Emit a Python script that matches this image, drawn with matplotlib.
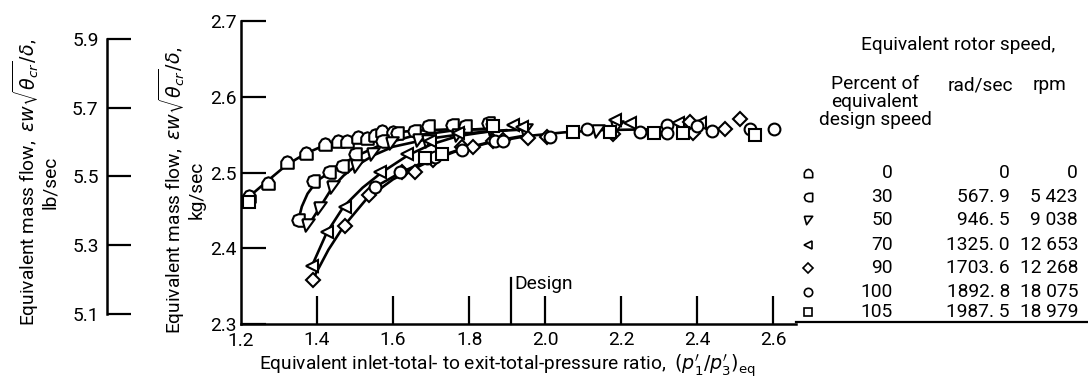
import matplotlib

matplotlib.use("Agg")
import matplotlib.pyplot as plt
from matplotlib.lines import Line2D

LB_PER_KG = 2.20462

plt.rcParams["font.family"] = ["Roboto", "DejaVu Sans"]
plt.rcParams["mathtext.fontset"] = "dejavusans"

# measured points, equivalent pressure ratio vs equivalent mass flow (kg/sec)
pr_0 = [1.221, 1.272, 1.322, 1.371, 1.421, 1.456, 1.480, 1.509, 1.531, 1.553, 1.572, 1.600]
wf_0 = [2.469, 2.486, 2.514, 2.526, 2.538, 2.542, 2.542, 2.547, 2.546, 2.550, 2.555, 2.553]

pr_30 = [1.351, 1.390, 1.432, 1.465, 1.500, 1.572, 1.610, 1.654, 1.693, 1.754, 1.789, 1.850]
wf_30 = [2.437, 2.489, 2.501, 2.508, 2.524, 2.541, 2.552, 2.555, 2.561, 2.563, 2.561, 2.566]

pr_50 = [1.377, 1.408, 1.443, 1.504, 1.548, 1.596, 1.667, 1.693, 1.772, 1.860, 1.950, 2.140, 2.190]
wf_50 = [2.431, 2.453, 2.481, 2.509, 2.524, 2.539, 2.543, 2.541, 2.550, 2.558, 2.556, 2.555, 2.560]

pr_70 = [1.386, 1.425, 1.474, 1.566, 1.636, 1.697, 1.772, 1.916, 1.940, 2.184, 2.224, 2.350, 2.408]
wf_70 = [2.376, 2.422, 2.455, 2.501, 2.525, 2.541, 2.552, 2.563, 2.560, 2.569, 2.566, 2.566, 2.565]

pr_90 = [1.390, 1.474, 1.538, 1.623, 1.658, 1.706, 1.781, 1.811, 1.864, 1.890, 1.955, 2.004,
         2.179, 2.380, 2.390, 2.474, 2.513]
wf_90 = [2.358, 2.429, 2.470, 2.501, 2.501, 2.516, 2.534, 2.534, 2.541, 2.543, 2.545, 2.547,
         2.551, 2.567, 2.552, 2.557, 2.570]

pr_100 = [1.553, 1.618, 1.689, 1.711, 1.781, 1.868, 1.890, 2.013, 2.110, 2.250, 2.320, 2.320,
          2.400, 2.439, 2.539, 2.603]
wf_100 = [2.481, 2.501, 2.519, 2.521, 2.530, 2.541, 2.541, 2.547, 2.557, 2.553, 2.563, 2.552,
          2.562, 2.555, 2.557, 2.558]

pr_105 = [1.221, 1.684, 1.730, 1.864, 2.074, 2.171, 2.287, 2.364, 2.553]
wf_105 = [2.461, 2.519, 2.525, 2.561, 2.554, 2.554, 2.552, 2.552, 2.550]

# faired curves through each speed line
fair_pr_0 = [1.221, 1.27, 1.32, 1.37, 1.42, 1.48, 1.55, 1.65, 1.75, 1.85]
fair_wf_0 = [2.468, 2.489, 2.510, 2.525, 2.536, 2.544, 2.550, 2.555, 2.557, 2.557]

fair_pr_30 = [1.351, 1.36, 1.375, 1.40, 1.45, 1.50, 1.57, 1.65, 1.75, 1.85]
fair_wf_30 = [2.437, 2.455, 2.472, 2.489, 2.506, 2.521, 2.537, 2.548, 2.555, 2.558]

fair_pr_50 = [1.377, 1.41, 1.44, 1.47, 1.50, 1.55, 1.60, 1.70, 1.80, 1.90]
fair_wf_50 = [2.430, 2.456, 2.480, 2.496, 2.508, 2.523, 2.534, 2.545, 2.552, 2.556]

fair_pr_70 = [1.386, 1.425, 1.47, 1.52, 1.57, 1.64, 1.70, 1.77, 1.85, 1.95]
fair_wf_70 = [2.376, 2.420, 2.455, 2.480, 2.500, 2.523, 2.537, 2.548, 2.554, 2.557]

fair_pr_90 = [1.392, 1.43, 1.47, 1.53, 1.60, 1.68, 1.76, 1.85, 1.95, 2.05, 2.15, 2.28]
fair_wf_90 = [2.362, 2.398, 2.429, 2.465, 2.491, 2.511, 2.527, 2.539, 2.548, 2.553, 2.556, 2.557]

fair_pr_100 = [1.553, 1.62, 1.70, 1.78, 1.87, 1.95]
fair_wf_100 = [2.481, 2.500, 2.518, 2.531, 2.542, 2.549]

speed_pct = ["0", "30", "50", "70", "90", "100", "105"]
speed_rad = ["0", "567. 9", "946. 5", "1325. 0", "1703. 6", "1892. 8", "1987. 5"]
speed_rpm = ["0", "5 423", "9 038", "12 653", "12 268", "18 075", "18 979"]

x_ticks = [1.4, 1.6, 1.8, 2.0, 2.2, 2.4, 2.6]
x_ticklabels = ["1.4", "1.6", "1.8", "2.0", "2.2", "2.4", "2.6"]
y_ticks = [2.3, 2.4, 2.5, 2.6, 2.7]
y_ticklabels = ["2.3", "2.4", "2.5", "2.6", "2.7"]
lb_ticks = [5.1, 5.3, 5.5, 5.7, 5.9]
lb_ticklabels = ["5.1", "5.3", "5.5", "5.7", "5.9"]
DESIGN_PR = 1.91

# symbol shapes
HOUSE = [(-1, -1), (1, -1), (1, 0.15), (0.55, 0.8), (0, 1), (-0.55, 0.8), (-1, 0.15), (-1, -1)]
HALF_ROUND = [(1, -1), (1, 1), (0, 1), (-0.7, 0.72), (-1, 0), (-0.7, -0.72), (0, -1), (1, -1)]
TILT_TRI = [(-1, 1), (1, 1), (-0.45, -1), (-1, 1)]

series = [
    (pr_0, wf_0, HOUSE, 9),
    (pr_30, wf_30, HALF_ROUND, 9),
    (pr_50, wf_50, TILT_TRI, 9),
    (pr_70, wf_70, "<", 8),
    (pr_90, wf_90, "D", 7),
    (pr_100, wf_100, "o", 8.5),
    (pr_105, wf_105, "s", 8),
]
fairs = [
    (fair_pr_0, fair_wf_0), (fair_pr_30, fair_wf_30), (fair_pr_50, fair_wf_50),
    (fair_pr_70, fair_wf_70), (fair_pr_90, fair_wf_90), (fair_pr_100, fair_wf_100),
]

FS = 13.8
W, H = 1088, 389
fig = plt.figure(figsize=(W / 100, H / 100), dpi=100)

x_lo, x_hi = 1.2, 2.66
y_lo, y_hi = 2.3, 2.7
ax = fig.add_axes([241 / W, 1 - 324 / H, (796 - 241) / W, (324 - 21) / H])
ax.set_xlim(x_lo, x_hi)
ax.set_ylim(y_lo, y_hi)
for side in ("top", "right"):
    ax.spines[side].set_visible(False)
for side in ("left", "bottom"):
    ax.spines[side].set_linewidth(1.8)

for xs, ys in fairs:
    ax.plot(xs, ys, color="black", lw=1.9, zorder=2, solid_capstyle="round")
for xs, ys, mk, ms in series:
    ax.plot(xs, ys, ls="none", marker=mk, ms=ms, mfc="white", mec="black", mew=1.5, zorder=3)

ax.plot([DESIGN_PR, DESIGN_PR], [y_lo, 2.361], color="black", lw=1.6, clip_on=False)
ax.text(DESIGN_PR + 0.008, 2.365, "Design", fontsize=FS, va="top", ha="left")

ax.set_xticks(x_ticks)
ax.set_xticklabels(x_ticklabels, fontsize=FS)
ax.set_yticks(y_ticks)
ax.set_yticklabels(y_ticklabels, fontsize=FS)
ax.tick_params(axis="x", direction="in", length=20, width=1.6, pad=5)
ax.tick_params(axis="y", direction="in", length=18, width=1.6, pad=3)
ax.annotate("1.2", xy=(1.2, 2.3), xytext=(0, -6), textcoords="offset points",
            fontsize=FS, ha="center", va="top")

ax.set_xlabel(r"Equivalent inlet-total- to exit-total-pressure ratio,  $(p_1^{\prime}/p_3^{\prime})_{\mathrm{eq}}$",
              fontsize=FS, labelpad=4)
ax.xaxis.set_label_coords((507 - 241) / (796 - 241), -0.095)

fig.text(181 / W, 1 - 190 / H,
         "Equivalent mass flow,  $\\epsilon w\\sqrt{\\theta_{cr}}/\\delta$,\nkg/sec",
         rotation=90, ha="center", va="center", multialignment="center", fontsize=FS,
         linespacing=1.0)

# companion scale in lb/sec
lax = fig.add_axes([107 / W, 1 - 324 / H, 0.02, (324 - 21) / H])
lax.set_ylim(y_lo * LB_PER_KG, y_hi * LB_PER_KG)
lax.set_xticks([])
for side in ("top", "right", "bottom"):
    lax.spines[side].set_visible(False)
lax.spines["left"].set_bounds(lb_ticks[0], lb_ticks[-1])
lax.spines["left"].set_linewidth(1.8)
lax.patch.set_visible(False)
lax.set_yticks(lb_ticks)
lax.set_yticklabels(lb_ticklabels, fontsize=FS)
lax.tick_params(axis="y", direction="in", length=17, width=1.6, pad=6)

fig.text(35 / W, 1 - 182 / H,
         "Equivalent mass flow,  $\\epsilon w\\sqrt{\\theta_{cr}}/\\delta$,\nlb/sec",
         rotation=90, ha="center", va="center", multialignment="center", fontsize=FS,
         linespacing=1.0)

# speed table
fig.text(958 / W, 1 - 45 / H, "Equivalent rotor speed,", fontsize=FS, ha="center", va="center")
fig.text(875 / W, 1 - 75 / H, "Percent of\nequivalent\ndesign speed", fontsize=FS,
         ha="center", va="top", multialignment="center", linespacing=1.0)
fig.text(980 / W, 1 - 85 / H, "rad/sec", fontsize=FS, ha="center", va="center")
fig.text(1050 / W, 1 - 85 / H, "rpm", fontsize=FS, ha="center", va="center")

row_y = [173, 197, 220, 245, 268, 292, 312]
legend_markers = [HOUSE, HALF_ROUND, TILT_TRI, "<", "D", "o", "s"]
legend_sizes = [6, 6, 6, 6, 5, 6, 6]
for ypx, mk, ms, pct, rad, rpm in zip(row_y, legend_markers, legend_sizes, speed_pct, speed_rad, speed_rpm):
    fy = 1 - ypx / H
    fig.add_artist(Line2D([808 / W], [fy], transform=fig.transFigure, ls="none", marker=mk,
                          ms=ms, mfc="white", mec="black", mew=1.2))
    fig.text(893 / W, fy, pct, fontsize=FS, ha="right", va="center")
    fig.text(1010 / W, fy, rad, fontsize=FS, ha="right", va="center")
    fig.text(1078 / W, fy, rpm, fontsize=FS, ha="right", va="center")

fig.add_artist(Line2D([796 / W, 1.0], [1 - 322 / H, 1 - 322 / H], transform=fig.transFigure,
                      color="black", lw=1.6))

fig.savefig("out.png", dpi=100)
